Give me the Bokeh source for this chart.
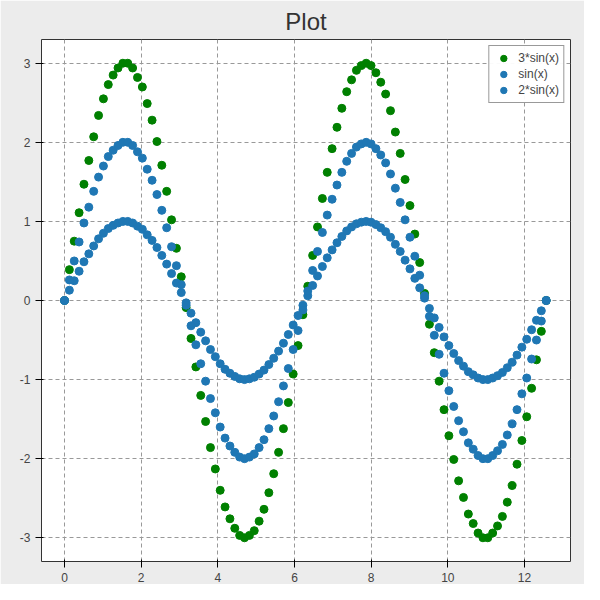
from bokeh.plotting import figure
from bokeh.models import Range1d, Legend, LegendItem, SingleIntervalTicker, CustomJSTickFormatter
from bokeh.embed import file_html
from bokeh.resources import INLINE
import numpy as np

# x grid: 100 points from 0 to 4*pi
x = np.linspace(0, 12.566, 100)

sin1 = [0, .13, .25, .37, .49, .59, .69, .78, .85, .91,
        .95, .98, 1, 1, .98, .94, .90, .83, .76, .67,
        .57, .46, .34, .22, .10, -.03, -.16, -.28, -.40, -.51,
        -.62, -.71, -.80, -.87, -.92, -.96, -.99, -1, -.99, -.97,
        -.93, -.88, -.81, -.73, -.64, -.54, -.43, -.31, -.19, -.06,
        .06, .19, .31, .43, .54, .64, .73, .81, .88, .93,
        .97, .99, 1, .99, .96, .92, .87, .80, .71, .62,
        .51, .40, .28, .16, .03, -.10, -.22, -.34, -.46, -.57,
        -.67, -.76, -.83, -.90, -.94, -.98, -1, -1, -.98, -.95,
        -.91, -.85, -.78, -.69, -.59, -.49, -.37, -.25, -.13, 0]

sin2 = [0, .26, .5, .74, .98, 1.18, 1.38, 1.56, 1.7, 1.82,
        1.9, 1.96, 2, 2, 1.96, 1.88, 1.8, 1.66, 1.52, 1.34,
        1.14, .92, .68, .44, .2, -.06, -.32, -.56, -.8, -1.02,
        -1.24, -1.42, -1.6, -1.74, -1.84, -1.92, -1.98, -2, -1.98, -1.94,
        -1.86, -1.76, -1.62, -1.46, -1.28, -1.08, -.86, -.62, -.38, -.12,
        .12, .38, .62, .86, 1.08, 1.28, 1.46, 1.62, 1.76, 1.86,
        1.94, 1.98, 2, 1.98, 1.92, 1.84, 1.74, 1.6, 1.42, 1.24,
        1.02, .8, .56, .32, .06, -.2, -.44, -.68, -.92, -1.14,
        -1.34, -1.52, -1.66, -1.8, -1.88, -1.96, -2, -2, -1.96, -1.9,
        -1.82, -1.7, -1.56, -1.38, -1.18, -.98, -.74, -.5, -.26, 0]

sin3 = [0, .39, .75, 1.11, 1.47, 1.77, 2.07, 2.34, 2.55, 2.73,
        2.85, 2.94, 3, 3, 2.94, 2.82, 2.7, 2.49, 2.28, 2.01,
        1.71, 1.38, 1.02, .66, .3, -.09, -.48, -.84, -1.2, -1.53,
        -1.86, -2.13, -2.4, -2.61, -2.76, -2.88, -2.97, -3, -2.97, -2.91,
        -2.79, -2.64, -2.43, -2.19, -1.92, -1.62, -1.29, -.93, -.57, -.18,
        .18, .57, .93, 1.29, 1.62, 1.92, 2.19, 2.43, 2.64, 2.79,
        2.91, 2.97, 3, 2.97, 2.88, 2.76, 2.61, 2.4, 2.13, 1.86,
        1.53, 1.2, .84, .48, .09, -.3, -.66, -1.02, -1.38, -1.71,
        -2.01, -2.28, -2.49, -2.7, -2.82, -2.94, -3, -3, -2.94, -2.85,
        -2.73, -2.55, -2.34, -2.07, -1.77, -1.47, -1.11, -.75, -.39, 0]

p = figure(width=584, height=584, output_backend="svg", toolbar_location=None,
           title="Plot", x_range=Range1d(-0.6, 13.2), y_range=Range1d(-3.3, 3.3),
           min_border_left=41, min_border_right=14, min_border_top=16, min_border_bottom=18)
p.border_fill_color = "#ececec"
p.background_fill_color = "white"
p.outline_line_color = "#333333"
p.title.align = "center"
p.title.text_font = "Liberation Sans"
p.title.text_font_size = "24px"
p.title.text_font_style = "normal"
p.title.text_color = "#333333"

for ax in (p.xaxis, p.yaxis):
    ax.major_label_text_font = "Liberation Sans"
    ax.major_label_text_font_size = "12px"
    ax.minor_tick_line_color = None
    ax.axis_line_color = None
    ax.formatter = CustomJSTickFormatter(code="return tick.toString();")
p.xaxis.ticker = SingleIntervalTicker(interval=2)
p.yaxis.ticker = SingleIntervalTicker(interval=1)
p.grid.grid_line_color = "#999999"
p.grid.grid_line_dash = "4 3"

g3 = p.scatter(x, sin3, size=8, color="green")
g1 = p.scatter(x, sin1, size=8, color="#1f77b4")
g2 = p.scatter(x, sin2, size=8, color="#1f77b4")

legend = Legend(items=[LegendItem(label="3*sin(x)", renderers=[g3]),
                       LegendItem(label="sin(x)", renderers=[g1]),
                       LegendItem(label="2*sin(x)", renderers=[g2])],
                location="top_right", label_text_font="Liberation Sans",
                label_text_font_size="12px", spacing=0, padding=4,
                label_height=16, glyph_height=16, border_line_color="#333333",
                margin=6)
p.add_layout(legend)

open("out.html", "w").write(file_html(p, INLINE))
